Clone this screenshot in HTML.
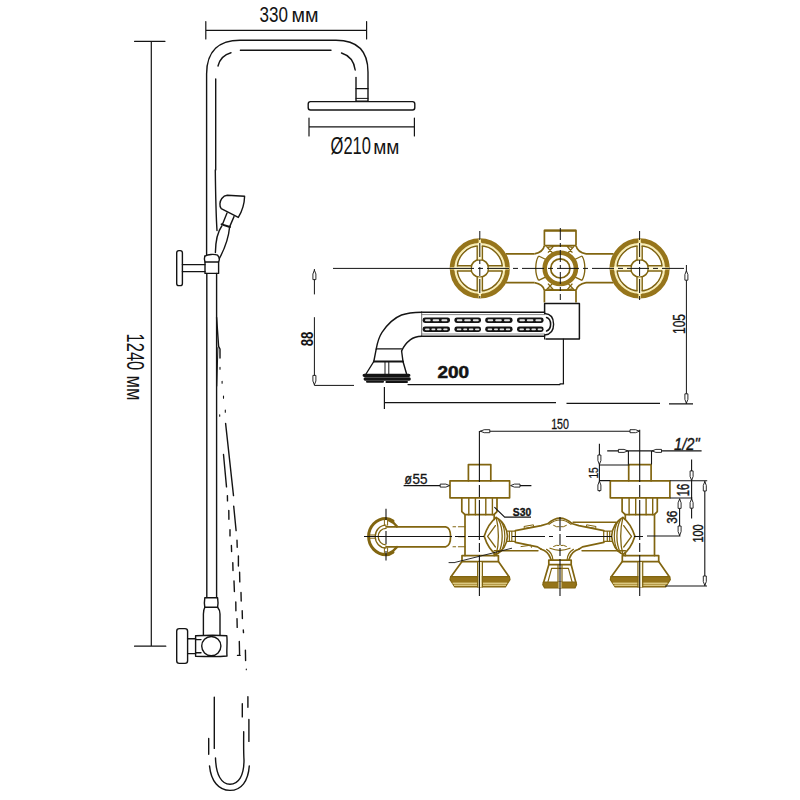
<!DOCTYPE html>
<html>
<head>
<meta charset="utf-8">
<title>Shower column drawing</title>
<style>
html,body{margin:0;padding:0;background:#fff;}
body{width:800px;height:800px;overflow:hidden;font-family:"Liberation Sans",sans-serif;}
svg{display:block;}
text{font-family:"Liberation Sans",sans-serif;}
</style>
</head>
<body>
<svg width="800" height="800" viewBox="0 0 800 800">
<rect width="800" height="800" fill="#fff"/>

<!-- ================= SHOWER COLUMN ================= -->
<g id="column" fill="none" stroke="#141414" stroke-width="1.4" stroke-linecap="round" stroke-linejoin="round">
  <!-- 330 dimension -->
  <path d="M205.8 30.3H366.6M205.8 21.5V39M366.6 21.5V39" stroke-width="1.2"/>
  <!-- overall height dimension -->
  <path d="M134.5 41.3H165M151.3 41.3V646.2M134.5 646.2H165.8" stroke-width="1.2"/>
  <!-- riser outer -->
  <path d="M206.6 254.5V74C206.6 50 220 40.2 240 40.2H336C357 40.2 368 51 368 72V88.6"/>
  <!-- riser inner -->
  <path d="M215.7 79V170"/>
  <path d="M218 66C220 58.5 224.5 54.5 231 52.8"/>
  <path d="M240.4 50.2H331"/>
  <path d="M341.5 53C349.5 55.5 354 61 355.2 70"/>
  <path d="M356 77.5V88.6"/>
  <!-- connector -->
  <path d="M356 88.6H368V101.2H356Z"/>
  <path d="M356 98.4H368" stroke-width="1"/>
  <!-- head -->
  <path d="M310.5 101.6H412.5Q414.8 101.6 414.8 104V107.5Q414.8 110 412.5 110H310.5Q308.2 110 308.2 107.5V104Q308.2 101.6 310.5 101.6Z"/>
  <!-- 210 dimension -->
  <path d="M309 126.8H414.4M309 118V136M414.4 118V136" stroke-width="1.2"/>
</g>

<!-- column texts -->
<g fill="#141414" stroke="none">
  <text x="259.6" y="22.4" font-size="22.6" textLength="28.4" lengthAdjust="spacingAndGlyphs">330</text>
  <text x="291.4" y="22.4" font-size="19.4" textLength="27" lengthAdjust="spacingAndGlyphs">мм</text>
  <text x="330.6" y="153.6" font-size="23.4" textLength="40.4" lengthAdjust="spacingAndGlyphs">Ø210</text>
  <text x="373.2" y="153.6" font-size="20" textLength="26.2" lengthAdjust="spacingAndGlyphs">мм</text>
  <text transform="translate(126.6 333.6) rotate(90)" font-size="24.6" textLength="36.6" lengthAdjust="spacingAndGlyphs">1240</text>
  <text transform="translate(126.8 375.6) rotate(90)" font-size="21.6" textLength="25" lengthAdjust="spacingAndGlyphs">мм</text>
</g>

<g id="column2" fill="none" stroke="#141414" stroke-width="1.4" stroke-linecap="round" stroke-linejoin="round">
  <!-- hand shower head -->
  <path d="M227.2 195.3L244.6 196.3C244.4 204 242 211.5 238.3 217.4L221.2 208.6C219.2 206 219.6 201.5 221.8 198.5C223.2 196.6 225 195.4 227.2 195.3Z"/>
  <!-- neck -->
  <path d="M227 213L222.4 224.4M234 216.6L229.8 226.4"/>
  <path d="M221.6 224.4L230 227" stroke-width="2"/>
  <!-- handle -->
  <path d="M221.8 226C217.5 232 215.6 239 215.4 252.5"/>
  <path d="M229.6 227C228.6 238 225 248 219.4 258.5"/>
  <!-- hose beside riser (upper) -->
  <path d="M215.3 170C215.6 195 216 215 217 230.5"/>
  <!-- holder -->
  <path d="M204.8 256.2C208 254.3 214 253.8 217.6 255.2C219.4 257 219.6 260 218.6 262"/>
  <path d="M204.8 256.2C204.2 258 204.4 260.5 205 262"/>
  <path d="M205 262H218.6V273.4H205Z"/>
  <path d="M182.4 264.6H205M182.4 271.6H205"/>
  <rect x="176.7" y="250.6" width="5.7" height="35" rx="2.2"/>
  <!-- riser lower -->
  <path d="M206.8 273.4V597.6M216.6 273.4V597.6"/>
  <!-- hose diverging -->
  <path d="M216.6 317.5L218.6 346.4L220 349V358"/>
  <path d="M217.9 347.6L216.8 386" stroke-width="1"/>
  <path d="M225.6 423.4L233.5 495.6M233.7 506.1L236.1 530.6M237 540.3L237.2 547.3M238.4 556V566M239.6 572.3L239.8 581.9M241 592.4L241.2 601.1M242.2 610.8L242.4 618.6M243.3 630L243.5 632.6M245.4 650.1L245.6 660.6"/>
  <path d="M223.5 454.5L226.5 486.9M227.4 495.6L227.5 500.9M228.8 510.5L228.9 519.3M230 529.8V535.9M231.4 545.5L231.6 551.6M232.8 562.6L233 570.5M234 581L234.4 591.5M235.8 602L235.9 610.8M237 618.6L237.2 627.4M239.3 641.4L239.6 655.4M237.5 655.4H240.1"/>
  <path d="M220 367.4V369.2M222.1 381.3V383.3M223.5 396V398.2M225.3 410V412.2M219.7 414.8V416.2M246.3 669V669.8" stroke-width="1.1"/>
  <!-- bottom valve -->
  <path d="M204.8 597.8Q204 602.5 204.8 607.3M217.6 597.8Q218.4 602.5 217.6 607.3M204.8 597.8H217.6"/>
  <path d="M204.8 607.3H217.6M204.8 607.3C203.6 609.4 203.4 611.4 203.4 614V635.4M217.6 607.3C219.4 609.4 220 611.4 220 614V635.4"/>
  <path d="M195.6 635.8C205 635.2 218 635 226.8 635.8C227.6 642 226.4 650 227 656C218 657 204 656.6 195.6 656.2Z"/>
  <circle cx="211.3" cy="646.1" r="9.6"/>
  <path d="M195.6 639.6H201M195.6 652.8H201"/>
  <path d="M187.6 638.8H195.6M187.6 653.6H195.6"/>
  <rect x="176.7" y="628.6" width="10.9" height="34.8" rx="2.6"/>
  <!-- hose bottom loop -->
  <path d="M214.3 697.1V748.4M208.7 738.4V754.2"/>
  <path d="M215.5 758C216 775 221.5 784.3 230 784.3C238.5 784.3 244 776 244 760C243.4 750 243.7 741 243.7 731.8"/>
  <path d="M209.5 765.9C211 781 218.5 790.4 230 790.4C241.5 790.4 248.2 781 249.3 765.9"/>
  <path d="M247.9 696.8V707.3M242.3 703.8V716.9M248.9 719.5V741.4"/>
</g>

<!-- ================= FAUCET TOP VIEW ================= -->
<g id="topview" fill="none" stroke="#816510" stroke-width="1.7" stroke-linejoin="round">
  <!-- bars -->
  <path d="M505.8 253.8H534.5M505.8 282.7H534.5M586 253.8H613.6M586 282.7H613.6"/>
  <!-- fillets to boxes -->
  <path d="M534.5 253.8C540 252.8 543.5 250.2 544.4 245.6M586 253.8C580.5 252.8 577 250.2 576 245.6M534.5 282.7C540 283.7 543.5 286.2 544.4 290.4M586 282.7C580.5 283.7 577 286.2 576 290.4"/>
  <!-- lobes -->
  <path d="M538.6 256C534.8 262 534.8 274 538.6 280.4M582 256C585.8 262 585.8 274 582 280.4M548 247.4Q560.3 244.4 572.4 247.4M548 288.8Q560.3 291.8 572.4 288.8" stroke-width="1.35"/>
  <!-- corner webs -->
  <path d="M546.4 246.4L553.6 254M553.4 246.4L548 252.6M574 246.4L567 254M567.2 246.4L572.4 252.6M546.4 289.8L553.6 282.4M553.4 289.8L548 283.6M574 289.8L567 282.4M567.2 289.8L572.4 283.6M538.6 256L547 260M538.6 280.4L547 276.4M582 256L573.6 260M582 280.4L573.6 276.4" stroke-width="1.35"/>
  <!-- top & bottom boxes -->
  <path d="M544.4 245.6V230.4H576V245.6" />
  <path d="M544.4 230.7H576" stroke-width="2"/>
  <path d="M544.4 245.6H576M544.4 290.2H576" />
  <path d="M544.4 290.2V302.6M576 290.2V302.6"/>
  <!-- central ring -->
  <circle cx="560.3" cy="268.4" r="15.6" stroke="#96751b" stroke-width="4.6"/>
  <circle cx="560.3" cy="268.4" r="9.6" stroke-width="1.7"/>
  <!-- left wheel -->
  <g id="wheelL">
    <circle cx="479.8" cy="268.4" r="24.6" stroke="#fbefb0" stroke-width="1.8"/>
    <circle cx="479.8" cy="268.4" r="27.7" stroke="#96751b" stroke-width="4.7"/>
    <circle cx="479.8" cy="268.4" r="22.6" stroke-width="1.5"/>
    <circle cx="479.8" cy="268.4" r="8.8" stroke-width="1.6"/>
    <path d="M477.8 259.4V242.8H481.8V259.4ZM477.8 277.4V294.0H481.8V277.4ZM470.8 266.4H454.2V270.4H470.8ZM488.8 266.4H505.4V270.4H488.8Z" fill="#fdf6d0" stroke="none"/>
    <path d="M477.2 260.0V246.0M482.4 260.0V246.0M477.2 276.8V290.8M482.4 276.8V290.8M471.4 265.8H457.4M471.4 271.0H457.4M488.2 265.8H502.2M488.2 271.0H502.2" stroke-width="1.4"/>
    <path d="M479.8 238.8V243.0M479.8 293.8V298.0M450.2 268.4H454.4M505.2 268.4H509.4" stroke="#fbeeb0" stroke-width="2.4"/>
  </g>
  <!-- right wheel -->
  <g id="wheelR">
    <circle cx="639.6" cy="268.4" r="24.6" stroke="#fbefb0" stroke-width="1.8"/>
    <circle cx="639.6" cy="268.4" r="27.7" stroke="#96751b" stroke-width="4.7"/>
    <circle cx="639.6" cy="268.4" r="22.6" stroke-width="1.5"/>
    <circle cx="639.6" cy="268.4" r="8.8" stroke-width="1.6"/>
    <path d="M637.6 259.4V242.8H641.6V259.4ZM637.6 277.4V294.0H641.6V277.4ZM630.6 266.4H614.0V270.4H630.6ZM648.6 266.4H665.2V270.4H648.6Z" fill="#fdf6d0" stroke="none"/>
    <path d="M637.0 260.0V246.0M642.2 260.0V246.0M637.0 276.8V290.8M642.2 276.8V290.8M631.2 265.8H617.2M631.2 271.0H617.2M648.0 265.8H662.0M648.0 271.0H662.0" stroke-width="1.4"/>
    <path d="M639.6 238.8V243.0M639.6 293.8V298.0M610.0 268.4H614.2M665.0 268.4H669.2" stroke="#fbeeb0" stroke-width="2.4"/>
  </g>
</g>
<!-- centre lines of top view -->
<g fill="none" stroke="#141414" stroke-width="1">
  <path d="M333 268.4H452" />
  <path d="M452 268.4H687.6" stroke-dasharray="22 4 5 4"/>
  <path d="M479.8 231V298" stroke-dasharray="9 3 14 3 4 3"/>
  <path d="M560.3 228V300" stroke-dasharray="12 3 4 3"/>
  <path d="M639.6 231V300" stroke-dasharray="9 3 14 3 4 3"/>
</g>

<!-- ================= SPOUT (top view) ================= -->
<g id="spout" fill="none" stroke="#141414" stroke-width="1.4" stroke-linejoin="round" stroke-linecap="round">
  <!-- tube -->
  <path d="M421.7 312.2H544.6M421.7 336.2H544.6" stroke-width="1.4"/>
  <path d="M421.7 314.6H544.6M421.7 334H544.6" stroke="#8a8a8a" stroke-width="1"/>
  <path d="M421.7 312.2V336.2" stroke="#6a6a6a" stroke-width="1"/>
  <path d="M544.6 313.5C550.5 313.8 553.6 318 553.6 324.3C553.6 330.5 550.5 334.6 544.6 335" />
  <path d="M546.6 317.6C549.4 318.6 550.6 321 550.6 324.3C550.6 327.6 549.4 330 546.6 331" stroke-width="1.6"/>
  <!-- elbow -->
  <path d="M421.7 312.2C412 312.4 406 313.4 401.5 315C394 318 387 325 382 332.3C379.6 336 377.4 342 376.2 349.2"/>
  <path d="M421.7 336.2C417 336.4 413.4 337.4 410.5 339.6C406.6 342.6 403.4 346.6 401.6 351"/>
  <path d="M376.6 348.8H401.6" stroke-width="1.3"/>
  <path d="M376.2 349.2L373.8 361.5M401.6 351L403 361.5"/>
  <path d="M373.8 361.5H403" stroke-width="1.8"/>
  <!-- aerator -->
  <path d="M373.8 361.5L366 374M403 361.5L406.6 374"/>
  <path d="M385 361.5V376M388.8 361.5V376" stroke-width="1"/>
  <path d="M364.2 375.3H408.8M365.2 379H409.2" stroke-width="3.3"/>
  <path d="M367 381.7H383M386.4 381.9H407" stroke-width="2"/>
  <!-- chain pattern -->
  <g fill="#141414" stroke="none">
    <rect x="422.6" y="317.4" width="27.4" height="5.6" rx="2.4"/><rect x="454.4" y="317.4" width="26.6" height="5.6" rx="2.4"/><rect x="485.2" y="317.4" width="27.4" height="5.6" rx="2.4"/><rect x="517" y="317.4" width="26.6" height="5.6" rx="2.4"/>
    <rect x="422.6" y="326.6" width="27.4" height="5.4" rx="2.4"/><rect x="454.4" y="326.6" width="26.6" height="5.4" rx="2.4"/><rect x="485.2" y="326.6" width="27.4" height="5.4" rx="2.4"/><rect x="517" y="326.6" width="26.6" height="5.4" rx="2.4"/>
  </g>
  <g fill="#e4e4e4" stroke="none">
    <rect x="425" y="319.2" width="5.6" height="2" rx="1"/><rect x="432.6" y="319.2" width="6.6" height="2" rx="1"/><rect x="441.4" y="319.2" width="6" height="2" rx="1"/>
    <rect x="456.8" y="319.2" width="5.6" height="2" rx="1"/><rect x="464.2" y="319.2" width="6.6" height="2" rx="1"/><rect x="472.8" y="319.2" width="6" height="2" rx="1"/>
    <rect x="487.6" y="319.2" width="5.6" height="2" rx="1"/><rect x="495.2" y="319.2" width="6.6" height="2" rx="1"/><rect x="504" y="319.2" width="6" height="2" rx="1"/>
    <rect x="519.4" y="319.2" width="5.6" height="2" rx="1"/><rect x="526.8" y="319.2" width="6.6" height="2" rx="1"/><rect x="535.4" y="319.2" width="6" height="2" rx="1"/>
    <rect x="425" y="328.4" width="4.6" height="1.8" rx=".9"/><rect x="431.4" y="328.4" width="4" height="1.8" rx=".9"/><rect x="437" y="328.4" width="4.6" height="1.8" rx=".9"/><rect x="443.2" y="328.4" width="4.4" height="1.8" rx=".9"/>
    <rect x="456.8" y="328.4" width="4.6" height="1.8" rx=".9"/><rect x="463.2" y="328.4" width="4" height="1.8" rx=".9"/><rect x="468.8" y="328.4" width="4.6" height="1.8" rx=".9"/><rect x="475" y="328.4" width="4.4" height="1.8" rx=".9"/>
    <rect x="487.6" y="328.4" width="4.6" height="1.8" rx=".9"/><rect x="494" y="328.4" width="4" height="1.8" rx=".9"/><rect x="499.6" y="328.4" width="4.6" height="1.8" rx=".9"/><rect x="505.8" y="328.4" width="4.4" height="1.8" rx=".9"/>
    <rect x="519.4" y="328.4" width="4.6" height="1.8" rx=".9"/><rect x="525.8" y="328.4" width="4" height="1.8" rx=".9"/><rect x="531.4" y="328.4" width="4.6" height="1.8" rx=".9"/><rect x="537.6" y="328.4" width="4.4" height="1.8" rx=".9"/>
  </g>
  <!-- mounting box -->
  <path d="M544.6 313V303.6H579.4V339H546" stroke-width="1.5"/>
  <path d="M544.6 335V339" stroke-width="1.2"/>
  <path d="M563.4 339V383.4M560 383.8H563.6" stroke-width="1.2"/>
  <!-- base line of 200 -->
  <path d="M408 384.6H560" stroke-width="1.1"/>
</g>
<!-- dimensions of top view -->
<g fill="none" stroke="#141414" stroke-width="1" stroke-linecap="butt">
  <!-- 88 -->
  <path d="M314.4 269V294.4M314.4 317.2V385.4M314.4 385.4H354"/>
  <path d="M314.4 270.2L312.9 274V279.6H315.9V274Z M314.4 384.8L312.9 381V375.4H315.9V381Z" fill="#fff" stroke-width=".9"/>
  <!-- 200 -->
  <path d="M384.4 387V409M384.4 402.6H556M566.5 403.4H660M669 403.8H693" stroke-width="1.2"/>
  <!-- 105 -->
  <path d="M686.4 265V404"/>
  <path d="M686.4 270.8L684.9 274.6V280.2H687.9V274.6Z M686.4 403.2L684.9 399.4V393.8H687.9V399.4Z" fill="#fff" stroke-width=".9"/>
</g>
<g fill="#141414" stroke="none">
  <text transform="translate(312.8 346.2) rotate(-90)" font-size="16.4" font-weight="bold" textLength="14.6" lengthAdjust="spacingAndGlyphs">88</text>
  <text transform="translate(685 334) rotate(-90)" font-size="16.4" stroke="#141414" stroke-width=".3" textLength="20" lengthAdjust="spacingAndGlyphs">105</text>
  <text x="437.4" y="378" font-size="15.6" font-weight="bold" stroke="#141414" stroke-width=".5" textLength="31.6" lengthAdjust="spacingAndGlyphs">200</text>
</g>

<!-- ================= FAUCET FRONT VIEW ================= -->
<g id="front" fill="none" stroke="#816510" stroke-width="1.7" stroke-linejoin="round" stroke-linecap="round">
  <!-- connecting pipe behind levers -->
  <path d="M494.2 550.8H538M582 550.8H625.4M573 522.2H616" stroke-width="1.4"/>
  <!-- left valve -->
  <path d="M468.4 480.8V464.6H490.8V480.8"/>
  <path d="M450.0 480.8H509.6V497.8H450.0Z"/>
  <path d="M461.8 497.8V511.6L465.0 514.7H494.0L497.0 511.6V497.8"/>
  <path d="M468.8 497.8V514.7M475.4 497.8V514.7M485.8 497.8V514.7M492.4 497.8V514.7" stroke-width="1.4"/>
  <path d="M465.0 514.7V555.6M494.2 514.7V519.5M494.2 553V555.6"/>
  <path d="M462.0 555.6H498.4V561.6H462.0Z"/>
  <path d="M462.0 561.6L450.8 577M498.4 561.6L509.2 577"/>
  <path d="M450.6 576.6H509.4L510.0 579.6L505.4 587H454.8L450.0 579.6Z" fill="#95741a" stroke-width="1.2"/>
  <path d="M453.0 583.2H506.8M454.4 585.2H505.6" stroke="#f9ecae" stroke-width="1"/>
  <path d="M478.2 562V587H481.8V562Z" fill="#fdf6d4" stroke="none"/>
  <path d="M477.6 561.6V587M482.4 561.6V587" stroke-width="1.2" />
  <!-- right valve -->
  <path d="M628.7 480.8V464.6H651.1V480.8"/>
  <path d="M610.3 480.8H669.9V497.8H610.3Z"/>
  <path d="M622.1 497.8V511.6L625.3 514.7H654.3L657.3 511.6V497.8"/>
  <path d="M629.1 497.8V514.7M635.7 497.8V514.7M646.1 497.8V514.7M652.7 497.8V514.7" stroke-width="1.4"/>
  <path d="M654.5 514.7V555.6M625.3 514.7V519.5M625.3 553V555.6"/>
  <path d="M622.3 555.6H658.7V561.6H622.3Z"/>
  <path d="M622.3 561.6L611.1 577M658.7 561.6L669.5 577"/>
  <path d="M610.9 576.6H669.7L670.3 579.6L665.7 587H615.1L610.3 579.6Z" fill="#95741a" stroke-width="1.2"/>
  <path d="M613.3 583.2H667.1M614.7 585.2H665.9" stroke="#f9ecae" stroke-width="1"/>
  <path d="M638.5 562V587H642.1V562Z" fill="#fdf6d4" stroke="none"/>
  <path d="M637.9 561.6V587M642.7 561.6V587" stroke-width="1.2" />
  <!-- knobs -->
  <path d="M484.2 536.3C486.5 529 491 521.5 496.2 517.4C502.5 520.5 507 528 507.5 536.3C507 544.5 502.5 551.6 496.2 554.6C491 551 486.5 543.6 484.2 536.3Z"/>
  <path d="M487.6 536.3L495.4 525.6M487.6 536.3L495.4 547" stroke-width="1.3"/>
  <path d="M496.2 517.4C497.6 523 498.4 530 498.4 536.3C498.4 542.6 497.6 549.6 496.2 554.6" stroke-width="1.3"/>
  <path d="M498.6 519.6C501.4 525 502.2 530.6 502.2 536.3C502.2 542 501.4 547.6 498.6 553" stroke-width="1.3"/>
  <path d="M501.4 521.6C504 526.4 504.8 531 504.8 536.3C504.8 541.6 504 546.2 501.4 551" stroke-width="1.2"/>
  <path d="M507.4 531.2H515.4M507.4 541.4H515.4M509.4 531.2V541.4M511.8 531.2V541.4M515.4 530.6V542.4" stroke-width="1.2"/>
  <g transform="translate(1119.1 0) scale(-1 1)"><path d="M484.2 536.3C486.5 529 491 521.5 496.2 517.4C502.5 520.5 507 528 507.5 536.3C507 544.5 502.5 551.6 496.2 554.6C491 551 486.5 543.6 484.2 536.3Z"/>
  <path d="M487.6 536.3L495.4 525.6M487.6 536.3L495.4 547" stroke-width="1.3"/>
  <path d="M496.2 517.4C497.6 523 498.4 530 498.4 536.3C498.4 542.6 497.6 549.6 496.2 554.6" stroke-width="1.3"/>
  <path d="M498.6 519.6C501.4 525 502.2 530.6 502.2 536.3C502.2 542 501.4 547.6 498.6 553" stroke-width="1.3"/>
  <path d="M501.4 521.6C504 526.4 504.8 531 504.8 536.3C504.8 541.6 504 546.2 501.4 551" stroke-width="1.2"/>
  <path d="M507.4 531.2H515.4M507.4 541.4H515.4M509.4 531.2V541.4M511.8 531.2V541.4M515.4 530.6V542.4" stroke-width="1.2"/></g>
  <!-- handle levers -->
  <path d="M515.4 530.6L541.2 525.6L547.5 523.8C551.5 520.6 555.5 518.2 560 518.2C564.5 518.2 568.5 520.6 572.5 523.8L578.8 525.6L603.8 530.6"/>
  <path d="M515.4 542.4L537.5 546.9L541.2 549.2M603.8 542.4L582.5 546.9L578.8 549.2"/>
  <path d="M549 524.4C553 521 556.6 520 560 520C563.4 520 567 521 571 524.4" stroke-width="1.1"/>
  <path d="M553.6 525.4Q557 527.6 559 526.8M566.4 525.4Q563 527.6 561 526.8M553.6 546.4Q557 544.6 559 545.4M566.4 546.4Q563 544.6 561 545.4" stroke-width="1"/>
  <path d="M524.4 526.4L533.4 524.8L533.8 526.8L524.8 528.4ZM595.6 526.4L586.6 524.8L586.2 526.8L595.2 528.4Z" stroke-width="1"/>
  <path d="M521 546.6L531 545.2L531.4 547.4" stroke-width="1"/>
  <!-- pedestal -->
  <path d="M541.2 549.2C546 550.6 549 554 550.4 558L551.2 560.2M578.8 549.2C574 550.6 571 554 569.6 558L568.8 560.2"/>
  <path d="M546.6 549.4C550.6 551.6 552.6 555 553 560.2M573.4 549.4C569.4 551.6 567.4 555 567 560.2" stroke-width="1.2"/>
  <path d="M550 548.2Q560 552.4 570 548.2" stroke-width="1.2"/>
  <path d="M548.8 560.2H571.2V564.6H548.8Z"/>
  <!-- centre escutcheon -->
  <path d="M548.8 564.8L543.6 582.4M571.2 564.8L575.8 582.4"/>
  <path d="M558 564.8V586.6M562 564.8V586.6M551.6 568.4L548 581.6M568.4 568.4L572 581.6M551.6 568.4H568.4" stroke-width="1.2"/>
  <path d="M543.4 582H576L576.6 584.6L575 588H544.6L542.8 584.6Z" fill="#95741a" stroke-width="1.2"/>
  <path d="M558.6 582V588H561.4V582Z" fill="#fdf6d4" stroke="none"/>
  <!-- spout (side) -->
  <path d="M386 526.8H445.6C449 527.4 450.6 530 450.6 536.6C450.6 543.4 449 546.2 445.6 546.8H386"/>
  <path d="M453 526.8H455.6M458.4 526.8H465M453 546.8H455.6M458.4 546.8H465M458.4 536.6H465" stroke-width="1.1"/>
  <!-- spout end ring -->
  <path d="M393 521C390.8 519.4 388.4 518.5 386 518.5C376.4 518.5 368.6 526.6 368.6 536.6C368.6 546.6 376.4 554.7 386 554.7C388.4 554.7 390.8 553.8 393 552.2" stroke-width="3"/>
  <path d="M397 526.4C395 523.8 392 521.6 389 520.4M397 547C395 549.6 392 551.8 389 553" stroke-width="2.4"/>
  <path d="M386 525.2C380 525.2 375.2 530.2 375.2 536.6C375.2 543 380 548 386 548" stroke-width="1.3"/>
  <path d="M386 528.4C381.6 528.4 378.2 532 378.2 536.6C378.2 541.2 381.6 544.8 386 544.8" stroke-width="1.3"/>
  <path d="M384.4 518.6V525.2M387.6 518.6V525.2M384.4 548V554.6M387.6 548V554.6M368.8 535H375.2M368.8 538.2H375.2" stroke-width="1"/>
</g>
<!-- front view: centre lines and dimensions -->
<g fill="none" stroke="#141414" stroke-width="1.1" stroke-linecap="butt">
  <!-- centre lines -->
  <path d="M364 536.5H452" />
  <path d="M455 536.5H465M468 536.5H484M512 536.5H545M549 536.5H553M566 536.5H612M634 536.5H643"/>
  <path d="M386 508.8V520M386 531V544M386 551V560.5"/>
  <path d="M479.4 431V482M479.4 485V497M479.4 500V540M479.4 543V552M479.4 555V596" />
  <path d="M560 517V531M560 534V545M560 548V556M560 559V596" />
  <path d="M639.7 429.7V482M639.7 485V497M639.7 500V540M639.7 543V552M639.7 555V596" />
  <!-- 150 -->
  <path d="M479.8 431.2H639.7"/>
  <path d="M480.4 431.2L484.2 429.7H489.8V432.7H484.2Z M639.4 431.2L635.6 429.7H630.0V432.7H635.6Z" fill="#fff" stroke-width=".9"/>
  <!-- 1/2" -->
  <path d="M607.2 450.9H701.6M628.4 450.9V464.4M651.5 450.9V464.4"/>
  <path d="M627.8 450.9L624.0 449.4H618.4V452.4H624.0Z M652.1 450.9L655.9 449.4H661.5V452.4H655.9Z" fill="#fff" stroke-width=".9"/>
  <!-- Ø55 -->
  <path d="M403.6 485.6H440M520 485.6H531.4"/>
  <path d="M449.6 485.6L445.8 484.1H440.2V487.1H445.8Z M510.6 485.6L514.4 484.1H520.0V487.1H514.4Z" fill="#fff" stroke-width=".9"/>
  <!-- S30 leader -->
  <path d="M494.4 507.2L504.7 517.1H531"/>
  <!-- 15 -->
  <path d="M599.4 443.8V491.6M599.4 465H629.4M599.4 480.6H610.2"/>
  <path d="M599.4 464.4L597.9 460.6V455.0H600.9V460.6Z M599.4 481.2L597.9 485.0V490.6H600.9V485.0Z" fill="#fff" stroke-width=".9"/>
  <!-- 16 -->
  <path d="M691.6 459.4V518.4M669.9 480.8H707.2M669.9 498H692.4"/>
  <path d="M691.6 480.3L690.1 476.5V470.9H693.1V476.5Z M691.6 498.8L690.1 502.6V508.2H693.1V502.6Z" fill="#fff" stroke-width=".9"/>
  <!-- 36 -->
  <path d="M679.6 498.4V536M647 536H680.4"/>
  <path d="M679.6 499L678.1 502.8V508.4H681.1V502.8Z M679.6 535.4L678.1 531.6V526.0H681.1V531.6Z" fill="#fff" stroke-width=".9"/>
  <!-- 100 -->
  <path d="M704.8 480.9V586M665 586H707"/>
  <path d="M704.8 481.6L703.3 485.4V491.0H706.3V485.4Z M704.8 585.4L703.3 581.6V576.0H706.3V581.6Z" fill="#fff" stroke-width=".9"/>
  <!-- small inclined leaders near handles -->
  <path d="M455 562.4L512 548.2M448.6 562.6H455" stroke-width=".9"/>
</g>
<g fill="#141414" stroke="none">
  <text x="551.2" y="428.8" font-size="14.4" stroke="#141414" stroke-width=".3" textLength="17.8" lengthAdjust="spacingAndGlyphs">150</text>
  <text x="674" y="449.6" font-size="15.6" font-style="italic" stroke="#141414" stroke-width=".35" textLength="25.6" lengthAdjust="spacingAndGlyphs">1/2"</text>
  <text x="404.4" y="483.8" font-size="14" stroke="#141414" stroke-width=".35" textLength="7.4" lengthAdjust="spacingAndGlyphs">ø</text>
  <text x="412.6" y="483.8" font-size="14.4" stroke="#141414" stroke-width=".3" textLength="15" lengthAdjust="spacingAndGlyphs">55</text>
  <text x="512.8" y="516.4" font-size="11.8" font-weight="bold" stroke="#141414" stroke-width=".35" textLength="18.4" lengthAdjust="spacingAndGlyphs">S30</text>
  <text transform="translate(597.6 478.6) rotate(-90)" font-size="12.6" stroke="#141414" stroke-width=".3" textLength="11.4" lengthAdjust="spacingAndGlyphs">15</text>
  <text transform="translate(689 496.2) rotate(-90)" font-size="15.6" stroke="#141414" stroke-width=".4" textLength="12.4" lengthAdjust="spacingAndGlyphs">16</text>
  <text transform="translate(676.6 523.8) rotate(-90)" font-size="14.8" stroke="#141414" stroke-width=".4" textLength="13" lengthAdjust="spacingAndGlyphs">36</text>
  <text transform="translate(702.8 542.6) rotate(-90)" font-size="14.8" stroke="#141414" stroke-width=".4" textLength="18.2" lengthAdjust="spacingAndGlyphs">100</text>
</g>

</svg>
</body>
</html>
